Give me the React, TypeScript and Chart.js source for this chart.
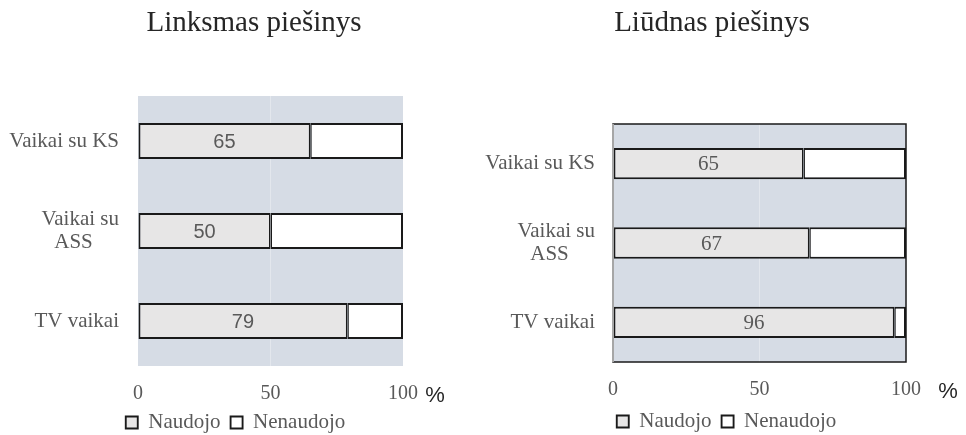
import React, { useEffect, useRef } from "react";
import { Chart, registerables } from "chart.js";

Chart.register(...registerables);

const categories: string[][] = [["Vaikai su KS"], ["Vaikai su", "ASS\u00a0\u00a0\u00a0\u00a0\u00a0"], ["TV vaikai"]];
const seriesNames = ["Naudojo", "Nenaudojo"];
const chartTitles = ["Linksmas piešinys", "Liūdnas piešinys"];
const happyUsed = [65, 50, 79];
const happyNotUsed = [35, 50, 21];
const sadUsed = [65, 67, 96];
const sadNotUsed = [35, 33, 4];
const xTickValues = [0, 50, 100];
const unitLabel = "%";

const SERIF = "'Liberation Serif', 'Times New Roman', serif";
const SANS = "'Liberation Sans', Arial, sans-serif";
const GRAY = "#595959";

const bgPlugin = {
  id: "plotBg",
  beforeDraw(chart: any) {
    const { ctx, chartArea: a } = chart;
    ctx.save();
    ctx.fillStyle = "#d6dce5";
    ctx.fillRect(a.left, a.top, a.right - a.left, a.bottom - a.top);
    ctx.restore();
  },
};

const legendShiftPlugin = {
  id: "legendShift",
  afterLayout(chart: any, _args: any, opts: any) {
    const lg = chart.legend;
    if (!lg || !opts || !opts.dx) return;
    lg.left += opts.dx;
    lg.right += opts.dx;
  },
};

const labelPlugin = {
  id: "valueLabels",
  afterDatasetsDraw(chart: any, _args: any, opts: any) {
    const { ctx } = chart;
    const meta = chart.getDatasetMeta(0);
    const data = chart.data.datasets[0].data;
    ctx.save();
    ctx.font = opts.font;
    ctx.fillStyle = opts.color;
    ctx.textAlign = "center";
    ctx.textBaseline = "middle";
    meta.data.forEach((el: any, i: number) => {
      const p = el.getCenterPoint();
      ctx.fillText(String(data[i]), p.x, p.y + 1);
    });
    ctx.restore();
  },
};

const framePlugin = {
  id: "plotFrame",
  afterDatasetsDraw(chart: any, _args: any, opts: any) {
    if (!opts || !opts.show) return;
    const { ctx, chartArea: a } = chart;
    ctx.save();
    ctx.strokeStyle = "#1a1a1a";
    ctx.lineWidth = 1.5;
    ctx.strokeRect(a.left, a.top, a.right - a.left, a.bottom - a.top);
    ctx.strokeStyle = "#a6a6a6";
    ctx.lineWidth = 2;
    ctx.beginPath();
    ctx.moveTo(a.left, a.top);
    ctx.lineTo(a.left, a.bottom);
    ctx.stroke();
    ctx.restore();
  },
};

type Cfg = {
  used: number[];
  notUsed: number[];
  pad: { top: number; left: number; right: number; bottom: number };
  yWidth: number;
  yPad: number;
  xHeight: number;
  xPad: number;
  barPct: number;
  labelFont: string;
  frame: boolean;
  legendDx: number;
};

function BarPanel({ cfg }: { cfg: Cfg }) {
  const ref = useRef<HTMLCanvasElement>(null);
  useEffect(() => {
    if (!ref.current) return;
    const chart = new Chart(ref.current, {
      type: "bar",
      data: {
        labels: categories,
        datasets: [
          {
            label: seriesNames[0],
            data: cfg.used,
            backgroundColor: "#e7e6e6",
            borderColor: "#1a1a1a",
            borderWidth: { top: 2, bottom: 2, left: 2, right: 1.5 },
            borderSkipped: false,
            barPercentage: cfg.barPct,
            categoryPercentage: 1,
          },
          {
            label: seriesNames[1],
            data: cfg.notUsed,
            backgroundColor: "#ffffff",
            borderColor: "#1a1a1a",
            borderWidth: { top: 2, bottom: 2, left: 1.5, right: 2 },
            borderSkipped: false,
            barPercentage: cfg.barPct,
            categoryPercentage: 1,
          },
        ],
      },
      options: {
        indexAxis: "y",
        responsive: false,
        animation: false,
        devicePixelRatio: 1,
        layout: { padding: cfg.pad },
        scales: {
          x: {
            stacked: true,
            min: 0,
            max: 100,
            afterBuildTicks: (s: any) => {
              s.ticks = xTickValues.map((v) => ({ value: v }));
            },
            afterFit: (s: any) => {
              s.height = cfg.xHeight;
            },
            border: { display: false },
            grid: {
              drawTicks: false,
              color: (c: any) => (c.tick && c.tick.value === 50 ? "#e3e7ed" : "rgba(0,0,0,0)"),
              lineWidth: 1,
            },
            ticks: {
              padding: cfg.xPad,
              color: GRAY,
              font: { family: SERIF, size: 20 },
            },
          },
          y: {
            stacked: true,
            afterFit: (s: any) => {
              s.width = cfg.yWidth;
            },
            border: { display: false },
            grid: { display: false, drawTicks: false },
            ticks: {
              padding: cfg.yPad,
              color: GRAY,
              font: { family: SERIF, size: 21, lineHeight: 1.1 },
            },
          },
        },
        plugins: {
          title: { display: false },
          tooltip: { enabled: false },
          legend: {
            position: "bottom",
            labels: {
              boxWidth: 12,
              boxHeight: 12,
              padding: 10,
              color: GRAY,
              font: { family: SERIF, size: 21 },
            },
          },
          legendShift: { dx: cfg.legendDx },
          valueLabels: { font: cfg.labelFont, color: GRAY },
          plotFrame: { show: cfg.frame },
        } as any,
      },
      plugins: [bgPlugin, legendShiftPlugin, labelPlugin, framePlugin],
    } as any);
    return () => chart.destroy();
  }, [cfg]);
  return <canvas ref={ref} width={483} height={445} style={{ width: 483, height: 445, display: "block" }} />;
}

const leftCfg: Cfg = {
  used: happyUsed,
  notUsed: happyNotUsed,
  pad: { top: 96, left: 0, right: 80, bottom: 2 },
  yWidth: 138,
  yPad: 19,
  xHeight: 36,
  xPad: 16,
  barPct: 0.4,
  labelFont: `20px ${SANS}`,
  frame: false,
  legendDx: 34,
};

const rightCfg: Cfg = {
  used: sadUsed,
  notUsed: sadNotUsed,
  pad: { top: 124, left: 0, right: 60, bottom: 3 },
  yWidth: 130,
  yPad: 18,
  xHeight: 39,
  xPad: 16,
  barPct: 0.395,
  labelFont: `21px ${SERIF}`,
  frame: true,
  legendDx: 32,
};

const titleStyle: React.CSSProperties = {
  position: "absolute",
  top: 7,
  width: 300,
  textAlign: "center",
  fontFamily: SERIF,
  fontSize: 29,
  lineHeight: "29px",
  color: "#262626",
  whiteSpace: "nowrap",
};

const unitStyle: React.CSSProperties = {
  position: "absolute",
  width: 30,
  textAlign: "center",
  fontFamily: SANS,
  fontSize: 22,
  lineHeight: "22px",
  color: "#262626",
};

export default function App() {
  return (
    <div
      style={{
        position: "fixed",
        left: 0,
        top: 0,
        width: 966,
        height: 435,
        overflow: "hidden",
        background: "#ffffff",
      }}
    >
      <div style={{ position: "absolute", left: 0, top: 0 }}>
        <BarPanel cfg={leftCfg} />
      </div>
      <div style={{ position: "absolute", left: 483, top: 0 }}>
        <BarPanel cfg={rightCfg} />
      </div>
      <div style={{ ...titleStyle, left: 254 - 150 }}>{chartTitles[0]}</div>
      <div style={{ ...titleStyle, left: 712 - 150 }}>{chartTitles[1]}</div>
      <div style={{ ...unitStyle, left: 435 - 15, top: 384 }}>{unitLabel}</div>
      <div style={{ ...unitStyle, left: 948 - 15, top: 380 }}>{unitLabel}</div>
    </div>
  );
}
